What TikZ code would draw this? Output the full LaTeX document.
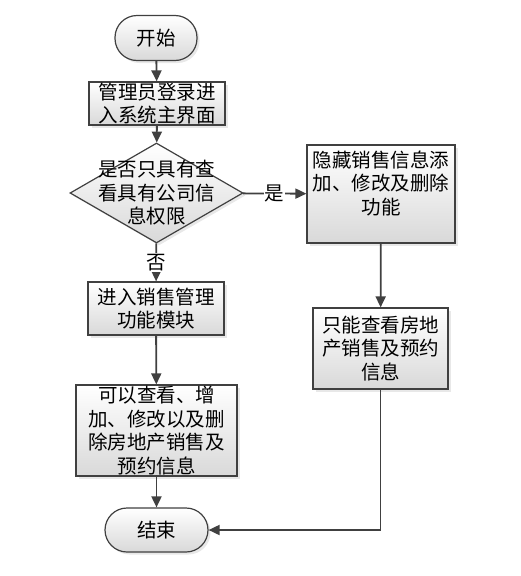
\documentclass[tikz,border=0pt]{standalone}
\usepackage{fontspec}
\setmainfont{Noto Sans CJK SC}
\usetikzlibrary{shapes.geometric,arrows.meta,shadows}
\begin{document}
\begin{tikzpicture}
            [x=1pt,y=-1pt,
             every node/.style={align=center,inner sep=0pt,font=\fontsize{19.5}{23.5}\selectfont},
             box/.style={draw=black!75,line width=1.2pt,top color=white,bottom color=black!15,
                 drop shadow={shadow xshift=2.5pt,shadow yshift=-2.5pt,fill=black!18}},
             proc/.style={box,rectangle},
             term/.style={box,rectangle,rounded corners=22pt},
             cond/.style={box,diamond,minimum width=173pt,minimum height=100pt},
             lbl/.style={fill=white,inner sep=1pt},
             line/.style={draw=black!75,line width=1.8pt},
             arr/.style={line,-{Triangle[length=11pt,width=10pt]}}]
            \useasboundingbox (0,0) rectangle (520,576);
            \node[term,minimum width=82pt,minimum height=45pt] (start) at (156,38) {开始};
            \node[proc,minimum width=136pt,minimum height=43pt] (login) at (157,103.5) {管理员登录进\\入系统主界面};
            \node[cond] (check) at (156.5,193) {};
            \node (checktext) at (check) {是否只具有查\\看具有公司信\\息权限};
            \node[proc,minimum width=148pt,minimum height=98pt] (hide) at (381,194) {隐藏销售信息添\\加、修改及删除\\功能\\ \mbox{}};
            \node[proc,minimum width=135pt,minimum height=81pt] (view) at (380.5,348.5) {只能查看房地\\产销售及预约\\信息};
            \node[proc,minimum width=136pt,minimum height=53pt] (enter) at (156,308.5) {进入销售管理\\功能模块};
            \node[proc,minimum width=161pt,minimum height=91pt] (edit) at (156.5,430.5) {可以查看、增\\加、修改以及删\\除房地产销售及\\预约信息};
            \node[term,minimum width=103pt,minimum height=44pt] (end) at (156.5,530) {结束};

            \foreach \from/\to in {start/login, login/check, hide/view, enter/edit, edit/end} \draw[arr] (\from) -- (\to);
            \draw[arr] (check) -- node[lbl] {是} (hide);
            \draw[arr] (check) -- node[lbl] {否} (enter);
            \draw[arr] (view.south) |- (end);
        \end{tikzpicture}
\end{document}
